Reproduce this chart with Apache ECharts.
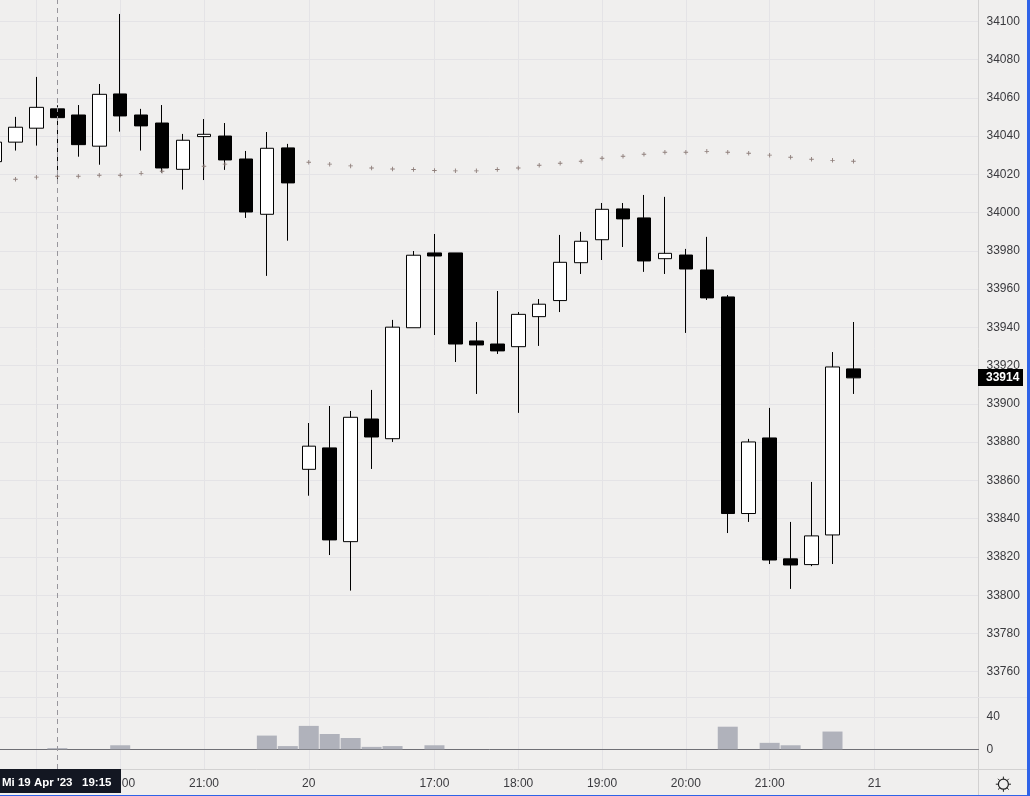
<!DOCTYPE html>
<html>
<head>
<meta charset="utf-8">
<style>html,body{margin:0;padding:0;background:#f0efee;overflow:hidden;width:1030px;height:796px;}#c{width:1047px;height:796px;margin-left:-17px;}</style>
<script src="https://cdn.jsdelivr.net/npm/echarts@6/dist/echarts.min.js"></script>
</head>
<body>
<div id="c"></div>
<script>
const categories = ['18:30','18:45','19:00','19:15','19:30','19:45','20:00','20:15','20:30','20:45','21:00','21:15','21:30','21:45','22:00',
  '15:30','15:45','16:00','16:15','16:30','16:45','17:00','17:15','17:30','17:45','18:00','18:15','18:30','18:45','19:00','19:15','19:30','19:45','20:00','20:15','20:30','20:45','21:00','21:15','21:30','21:45','22:00',
  '15:30','15:45','16:00','16:15','16:30','16:45'];
const opens  = [34026.6,34036.8,34044.1,34054.2,34051,34034.7,34062,34051,34046.8,34022.6,34039.7,34040,34028,33999.1,34033.8,
  33865.8,33877,33828,33892.1,33881.8,33939.8,33978.9,33978.9,33932.9,33931.3,33929.9,33945.6,33954,33973.8,33985.8,34001.9,33997.2,33975.9,33977.8,33970,33955.9,33842.7,33882.2,33819,33816,33831.5,33918.3];
const closes = [34036.8,34044.6,34055,34049.6,34035.5,34061.8,34050.5,34045.3,34023.3,34037.8,34040.9,34027.5,34000.3,34033.6,34015.5,
  33877.9,33828.9,33893,33882.7,33940.1,33977.7,33977.3,33931.3,33930.8,33927.7,33946.8,33952.1,33974,33985,34001.7,33996.7,33974.7,33978.7,33970.5,33955.4,33842.7,33880.1,33818.4,33815.8,33831,33919.3,33913.6];
const lows   = [34026,34032.4,34035,34017,34029.2,34025,34042.3,34032.4,34020.9,34012,34017,34022.3,33997.2,33966.9,33985.3,
  33852,33821,33802.4,33866,33880.1,33939.8,33936,33921.9,33905.2,33926.1,33895.3,33930.3,33948,33967.9,33975.2,33982,33969,33967.9,33937.1,33954.3,33832.5,33838.3,33816.3,33803.3,33815.2,33816.3,33905.2];
const highs  = [34037,34050,34070.9,34056.1,34056.2,34067.2,34103.8,34054.2,34056.2,34041.1,34048.9,34046.8,34032.2,34042.1,34035.9,
  33890,33898.9,33896.3,33907.3,33943.9,33979.9,33988.8,33978.9,33942.8,33959,33948,33954.8,33988.3,33989.9,34005,34005,34009.2,34008.2,33981,33987.3,33956.9,33881.7,33897.9,33838.3,33859.2,33927.1,33942.8];
const avgDots = [null,34017.4,34018.5,34019,34019,34019.5,34019.5,34020.5,34021.6,null,34024.2,34025.3,null,null,null,
  34026.3,34025.3,34024.4,34023.3,34022.8,34022.5,34022,34021.8,34021.8,34022.5,34023.3,34024.7,34025.8,34026.8,34028.4,34029.4,34030.5,34031.5,34031.5,34032,34031.5,34031,34030,34028.9,34027.9,34027.3,34026.8];
const volumes = [0,0,0,1.5,0,0,5,0,0,0,0,0,0,17,4,29,19,14,3,4,0,5,0,0,0,0,0,0,0,0,0,0,0,0,0,28,0,8,5,0,22,0];
const priceTicks = [33760,33780,33800,33820,33840,33860,33880,33900,33920,33940,33960,33980,34000,34020,34040,34060,34080,34100];
const volumeTicks = [0,40];
const timeTicks = {2:'19:00',6:'20:00',10:'21:00',15:'20',21:'17:00',25:'18:00',29:'19:00',33:'20:00',37:'21:00',42:'21'};
const crosshairIndex = 3;
const lastPriceText = '33914';
const crosshairText = "Mi 19 Apr '23   19:15";

const FONT = '"Liberation Sans", Arial, sans-serif';
const BG = '#f0efee', GRID = '#e4e3e6', EDGE = '#d2d1d1', TXT = '#3a3a3e';
const PRICE_MIN = 33746.8, PRICE_MAX = 34111.1, VOL_MIN = -24.4, VOL_MAX = 64.8;
const plus = 'path://M2 0h1v2h2v1h-2v2h-1v-2h-2v-1h2z';
const OFF = 17;
const isTick = i => timeTicks[i] !== undefined;
const candles = opens.map((o, i) => [o, closes[i], lows[i], highs[i]]);

const crossLine = {
  silent: true, symbol: 'none', animation: false, label: {show: false},
  lineStyle: {color: '#98969c', type: [5, 4], width: 1},
  data: [{xAxis: crosshairIndex}]
};

const frameX = (i, extra) => Object.assign({gridIndex: i, type: 'value', min: 0, max: 1,
  axisLabel: {show: false}, axisTick: {show: false}, splitLine: {show: false}}, extra);
const dataX = (i, labelled) => ({
  gridIndex: i, type: 'category', data: categories,
  axisLine: {show: false}, axisTick: {show: false},
  axisLabel: labelled ? {show: true, interval: (idx) => isTick(idx), formatter: (v, idx) => timeTicks[idx] || '',
    color: TXT, fontFamily: FONT, fontSize: 12, margin: 9} : {show: false},
  splitLine: {show: true, alignWithLabel: true, interval: (idx) => isTick(idx), lineStyle: {color: GRID, width: 1}}
});

const rays = [];
for (let k = 0; k < 8; k++) {
  const a = k * Math.PI / 4, cx = 1003.4, cy = 784.2;
  rays.push({type: 'line', silent: true, z: 50,
    shape: {x1: cx + 5 * Math.cos(a), y1: cy + 5 * Math.sin(a), x2: cx + 7.6 * Math.cos(a), y2: cy + 7.6 * Math.sin(a)},
    style: {stroke: '#222', lineWidth: 1}});
}

const option = {
  animation: false,
  backgroundColor: BG,
  grid: [
    {left: OFF, top: 0, width: 978.5, height: 697, outerBoundsMode: 'none'},
    {left: OFF, top: 697, width: 978.5, height: 72, outerBoundsMode: 'none'},
    {left: 1.03, top: 0, width: 1005.6, height: 697, outerBoundsMode: 'none'},
    {left: 1.03, top: 697, width: 1005.6, height: 72, outerBoundsMode: 'none'}
  ],
  xAxis: [
    frameX(0, {axisLine: {show: true, onZero: false, lineStyle: {color: GRID}}}),
    frameX(1, {axisLine: {show: true, onZero: true, lineStyle: {color: '#6f6f75', width: 1}}}),
    dataX(2, false),
    dataX(3, true)
  ],
  yAxis: [
    {gridIndex: 0, type: 'value', position: 'right', min: PRICE_MIN, max: PRICE_MAX,
      axisLine: {show: true, onZero: false, lineStyle: {color: EDGE}},
      axisTick: {show: false, customValues: priceTicks},
      axisLabel: {customValues: priceTicks, color: TXT, fontFamily: FONT, fontSize: 12, margin: 8, padding: [2, 0, 0, 0], formatter: v => String(v)},
      splitLine: {show: true, lineStyle: {color: GRID}}},
    {gridIndex: 1, type: 'value', position: 'right', min: VOL_MIN, max: VOL_MAX,
      axisLine: {show: true, onZero: false, lineStyle: {color: EDGE}},
      axisTick: {show: false, customValues: volumeTicks},
      axisLabel: {customValues: volumeTicks, color: TXT, fontFamily: FONT, fontSize: 12, margin: 8, padding: [2, 0, 0, 0], formatter: v => String(v)},
      splitLine: {show: true, lineStyle: {color: GRID}}},
    {gridIndex: 2, type: 'value', min: PRICE_MIN, max: PRICE_MAX, show: false, splitLine: {show: false}},
    {gridIndex: 3, type: 'value', min: VOL_MIN, max: VOL_MAX, show: false, splitLine: {show: false}}
  ],
  series: [
    {type: 'candlestick', xAxisIndex: 2, yAxisIndex: 2, data: candles, barWidth: 14, z: 3,
      itemStyle: {color: '#ffffff', color0: '#000000', borderColor: '#000000', borderColor0: '#000000', borderWidth: 1},
      markLine: crossLine},
    {type: 'scatter', xAxisIndex: 2, yAxisIndex: 2, data: avgDots, symbol: plus, symbolSize: 4.5, z: 4,
      itemStyle: {color: '#8f7f7b', opacity: 1}},
    {type: 'bar', xAxisIndex: 3, yAxisIndex: 3, data: volumes, barWidth: 20, z: 3,
      itemStyle: {color: '#b0b2bb'}, markLine: crossLine}
  ],
  graphic: [{type: 'group', x: OFF, y: 0, children: [
    {type: 'line', silent: true, z: 40, shape: {x1: 0, y1: 769.5, x2: 1027, y2: 769.5}, style: {stroke: EDGE, lineWidth: 1}},
    {type: 'line', silent: true, z: 40, shape: {x1: 978, y1: 697.5, x2: 1027, y2: 697.5}, style: {stroke: GRID, lineWidth: 1}},
    {type: 'line', silent: true, z: 40, shape: {x1: 978.5, y1: 769, x2: 978.5, y2: 795}, style: {stroke: EDGE, lineWidth: 1}},
    {type: 'rect', silent: true, z: 40, shape: {x: 1027, y: 0, width: 3, height: 796}, style: {fill: '#2f63e8'}},
    {type: 'rect', silent: true, z: 40, shape: {x: 0, y: 795, width: 1030, height: 1}, style: {fill: '#2f63e8'}},
    {type: 'rect', silent: true, z: 45, shape: {x: 978, y: 369, width: 45, height: 17}, style: {fill: '#000000'}},
    {type: 'text', silent: true, z: 46, x: 986, y: 372, style: {text: lastPriceText, fill: '#ffffff', font: 'bold 12px ' + FONT}},
    {type: 'rect', silent: true, z: 45, shape: {x: 0, y: 769, width: 121, height: 24}, style: {fill: '#131722'}},
    {type: 'text', silent: true, z: 46, x: 2, y: 777, style: {text: crosshairText, fill: '#ffffff', font: 'bold 11.5px ' + FONT}},
    {type: 'circle', silent: true, z: 50, shape: {cx: 1003.4, cy: 784.2, r: 5}, style: {fill: 'none', stroke: '#222', lineWidth: 1.2}}
  ].concat(rays)}]
};
echarts.init(document.getElementById('c')).setOption(option);
</script>
</body>
</html>
